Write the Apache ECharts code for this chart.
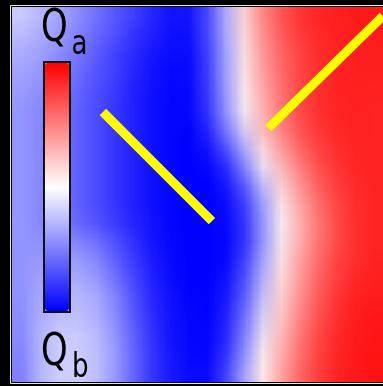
<!DOCTYPE html>
<html>
<head>
<meta charset="utf-8">
<script src="https://cdn.jsdelivr.net/npm/echarts@6/dist/echarts.min.js"></script>
<style>
  html, body { margin: 0; padding: 0; background: #000; }
  #wrap { position: relative; width: 383px; height: 386px; overflow: hidden; background: #000; }
  /* coarse field canvas, smoothly upscaled by the browser */
  #field { position: absolute; left: 12px; top: 7px; width: 20px; height: 20px;
           transform-origin: 0 0; transform: scale(18.55, 18.75); }
  #main { position: absolute; left: 0; top: 0; width: 383px; height: 386px; }
</style>
</head>
<body>
<div id="wrap"><div id="field"></div><div id="main"></div></div>
<script>
// Field values, -1 (Q_b) .. +1 (Q_a); rows top to bottom, columns left to right
const fieldValues = [
  [-0.18,-0.25,-0.32,-0.42,-0.52,-0.62,-0.72,-0.82,-0.90,-0.96,-0.78,-0.38, 0.10, 0.45, 0.65, 0.78, 0.84, 0.87, 0.88, 0.90],
  [-0.24,-0.30,-0.36,-0.45,-0.55,-0.65,-0.75,-0.84,-0.91,-0.96,-0.80,-0.40, 0.08, 0.42, 0.62, 0.76, 0.83, 0.86, 0.88, 0.89],
  [-0.30,-0.35,-0.42,-0.50,-0.60,-0.70,-0.80,-0.88,-0.94,-0.98,-0.81,-0.43, 0.05, 0.38, 0.58, 0.73, 0.81, 0.85, 0.87, 0.88],
  [-0.34,-0.39,-0.46,-0.54,-0.63,-0.72,-0.82,-0.90,-0.95,-0.99,-0.83,-0.45, 0.03, 0.35, 0.56, 0.71, 0.80, 0.85, 0.87, 0.88],
  [-0.37,-0.42,-0.49,-0.57,-0.66,-0.74,-0.84,-0.91,-0.96,-1.00,-0.84,-0.48, 0.02, 0.32, 0.53, 0.69, 0.79, 0.85, 0.87, 0.87],
  [-0.40,-0.45,-0.52,-0.60,-0.68,-0.76,-0.85,-0.92,-0.97,-1.00,-0.86,-0.50, 0.00, 0.28, 0.51, 0.69, 0.80, 0.85, 0.86, 0.86],
  [-0.40,-0.45,-0.52,-0.60,-0.68,-0.76,-0.85,-0.92,-0.97,-1.00,-0.90,-0.57,-0.09, 0.24, 0.48, 0.67, 0.78, 0.84, 0.86, 0.86],
  [-0.40,-0.45,-0.52,-0.60,-0.68,-0.76,-0.85,-0.92,-0.97,-1.00,-0.95,-0.71,-0.30, 0.14, 0.39, 0.61, 0.74, 0.82, 0.85, 0.86],
  [-0.40,-0.45,-0.52,-0.60,-0.68,-0.76,-0.85,-0.92,-0.97,-1.00,-0.99,-0.86,-0.53, 0.00, 0.27, 0.51, 0.68, 0.79, 0.84, 0.86],
  [-0.40,-0.45,-0.52,-0.60,-0.68,-0.76,-0.85,-0.92,-0.97,-1.00,-1.00,-0.94,-0.69,-0.24, 0.15, 0.42, 0.62, 0.76, 0.83, 0.86],
  [-0.40,-0.45,-0.52,-0.60,-0.68,-0.76,-0.85,-0.92,-0.97,-1.00,-1.00,-0.98,-0.81,-0.43, 0.05, 0.33, 0.55, 0.71, 0.81, 0.86],
  [-0.40,-0.45,-0.52,-0.60,-0.68,-0.76,-0.85,-0.92,-0.97,-1.00,-1.00,-0.99,-0.86,-0.50, 0.00, 0.28, 0.51, 0.69, 0.80, 0.86],
  [-0.41,-0.43,-0.46,-0.50,-0.57,-0.68,-0.80,-0.90,-0.96,-1.00,-1.00,-1.00,-0.87,-0.53,-0.03, 0.27, 0.50, 0.68, 0.79, 0.86],
  [-0.42,-0.41,-0.40,-0.40,-0.46,-0.60,-0.75,-0.88,-0.95,-1.00,-1.00,-1.00,-0.83,-0.45, 0.03, 0.32, 0.54, 0.71, 0.80, 0.86],
  [-0.43,-0.38,-0.35,-0.34,-0.40,-0.54,-0.70,-0.85,-0.94,-1.00,-1.00,-0.99,-0.78,-0.38, 0.08, 0.35, 0.57, 0.73, 0.82, 0.87],
  [-0.45,-0.35,-0.30,-0.28,-0.32,-0.45,-0.65,-0.82,-0.93,-0.98,-1.00,-0.95,-0.73,-0.30, 0.12, 0.39, 0.60, 0.76, 0.85, 0.88],
  [-0.47,-0.33,-0.27,-0.25,-0.29,-0.42,-0.62,-0.80,-0.92,-0.97,-1.00,-0.93,-0.67,-0.21, 0.17, 0.43, 0.65, 0.79, 0.87, 0.90],
  [-0.50,-0.30,-0.22,-0.20,-0.25,-0.38,-0.58,-0.78,-0.90,-0.96,-1.00,-0.91,-0.61,-0.12, 0.21, 0.47, 0.68, 0.81, 0.88, 0.91],
  [-0.52,-0.30,-0.20,-0.18,-0.23,-0.36,-0.56,-0.76,-0.89,-0.96,-1.00,-0.87,-0.55,-0.03, 0.26, 0.52, 0.71, 0.83, 0.89, 0.92],
  [-0.55,-0.32,-0.20,-0.18,-0.22,-0.35,-0.55,-0.75,-0.88,-0.95,-1.00,-0.83,-0.48, 0.03, 0.30, 0.55, 0.73, 0.84, 0.90, 0.92]
];
const valueRange = [-1, 1];
const colorStops = ['#0000ff', '#ffffff', '#ff0000'];

// Two marked segments, in percent of the field (x from left, y from top)
const segmentA = [[24.5, 28.0], [53.9, 57.1]];
const segmentB = [[69.1, 32.3], [100.0, 2.4]];

// Colour-bar end labels
const topLabel = ['Q', 'a'];
const bottomLabel = ['Q', 'b'];

const colIds = fieldValues[0].map((_, i) => i);
const rowIds = fieldValues.map((_, j) => j);
const cells = [];
fieldValues.forEach((row, j) => row.forEach((v, i) => cells.push([i, j, v])));

const field = echarts.init(document.getElementById('field'), null, { width: 20, height: 20 });
field.setOption({
  animation: false,
  grid: { left: 0, right: 0, top: 0, bottom: 0 },
  xAxis: { type: 'category', data: colIds, show: false },
  yAxis: { type: 'category', data: rowIds, inverse: true, show: false },
  visualMap: { show: false, min: valueRange[0], max: valueRange[1], inRange: { color: colorStops } },
  series: [{ type: 'heatmap', data: cells, itemStyle: { borderWidth: 0 }, emphasis: { disabled: true }, progressive: 0 }]
});

const chart = echarts.init(document.getElementById('main'));
const font = '"DejaVu Sans", sans-serif';
const squeeze = 0.77;
function label(x, y, text, size) {
  return { type: 'text', x: x, y: y, scaleX: squeeze, z: 20, silent: true,
           style: { x: 0, y: 0, text: text, fill: '#000', font: size + 'px ' + font,
                    align: 'left', verticalAlign: 'middle' } };
}
chart.setOption({
  animation: false,
  grid: { left: 12, top: 7, width: 371, height: 375 },
  xAxis: { type: 'value', min: 0, max: 100, show: false },
  yAxis: { type: 'value', min: 0, max: 100, inverse: true, show: false },
  visualMap: {
    type: 'continuous', seriesIndex: [], min: valueRange[0], max: valueRange[1],
    inRange: { color: colorStops }, calculable: false, hoverLink: false,
    left: 45, top: 63, itemWidth: 24, itemHeight: 248, padding: 0
  },
  series: [
    { type: 'line', data: segmentA, symbol: 'none', silent: true,
      lineStyle: { color: '#ffff00', width: 9, cap: 'butt' } },
    { type: 'line', data: segmentB, symbol: 'none', silent: true,
      lineStyle: { color: '#ffff00', width: 9, cap: 'butt' } }
  ],
  graphic: [
    { type: 'rect', z: 20, silent: true, shape: { x: 10.5, y: 5.5, width: 380, height: 378 },
      style: { fill: 'none', stroke: '#e8e8e8', lineWidth: 1 } },
    { type: 'rect', z: 20, silent: true, shape: { x: 44, y: 62, width: 26, height: 250 },
      style: { fill: 'none', stroke: '#111', lineWidth: 2 } },
    label(41, 29.8, topLabel[0], 44),
    label(71.5, 45.5, topLabel[1], 34),
    label(41, 353.5, bottomLabel[0], 44),
    label(72, 368.5, bottomLabel[1], 34)
  ]
});
</script>
</body>
</html>
